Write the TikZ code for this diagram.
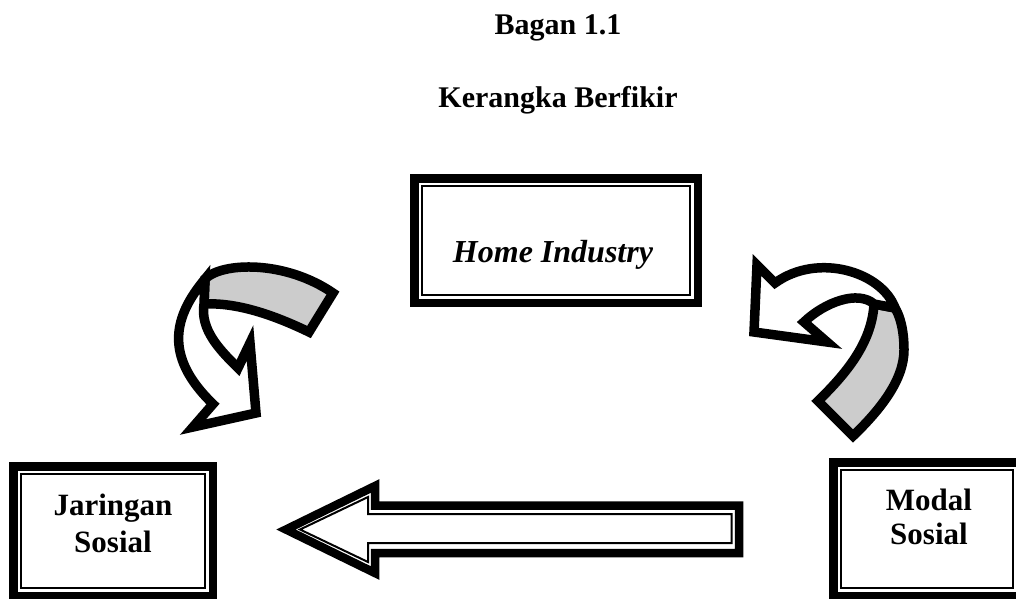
\documentclass[tikz,border=0pt]{standalone}
\usepackage{fontspec}
\setmainfont{Liberation Serif}
\definecolor{ribgray}{RGB}{204,204,204}
\begin{document}
\begin{tikzpicture}[x=1pt,y=-1pt,
  frame/.style={draw, line width=8.5pt, inner sep=0pt, outer sep=0pt},
  thinframe/.style={draw, line width=2pt},
  ribbon/.style={draw, line width=9.5pt, line join=miter, miter limit=10},
  titletext/.style={font=\fontsize{30}{36}\selectfont\bfseries, inner sep=0pt},
  boxtext/.style={font=\fontsize{31}{36}\selectfont\bfseries, inner sep=0pt}]
\useasboundingbox (0,0) rectangle (1016,598);
\clip (0,0) rectangle (1016,598);

% titles
\node[titletext, anchor=base] (t1) at (558,34) {Bagan 1.1};
\node[titletext, anchor=base] (t2) at (558,107) {Kerangka Berfikir};

% boxes
\node[frame, minimum width=283.5pt, minimum height=124.5pt] (home) at (556,240.5) {};
\draw[thinframe] ([shift={(8,8)}]home.north west) rectangle ([shift={(-8,-8)}]home.south east);
\node[boxtext, anchor=base, font=\fontsize{32}{36}\selectfont\bfseries\itshape] (homet) at (553,262) {Home Industry};

\node[frame, minimum width=199.5pt, minimum height=129.5pt] (jar) at (113,531) {};
\draw[thinframe] ([shift={(8,8)}]jar.north west) rectangle ([shift={(-8,-8)}]jar.south east);
\node[boxtext, anchor=base] (jar1) at (113,515) {Jaringan};
\node[boxtext, anchor=base] (jar2) at (113,552) {Sosial};

\node[frame, minimum width=187.5pt, minimum height=133.5pt] (mod) at (927,529) {};
\draw[thinframe] ([shift={(8,8)}]mod.north west) rectangle ([shift={(-8,-8)}]mod.south east);
\node[boxtext, anchor=base] (mod1) at (929,510) {Modal};
\node[boxtext, anchor=base] (mod2) at (929,544) {Sosial};

% horizontal block arrow (Modal Sosial -> Jaringan Sosial)
\draw[line width=8.5pt, line join=miter, miter limit=10]
  (286,529.5) -- (375,486) -- (375,505.5) -- (739,505.5) -- (739,553) -- (375,553) -- (375,573) -- cycle;
\draw[line width=2pt, line join=miter, miter limit=10]
  (300,529.5) -- (368,497) -- (368,514) -- (731.5,514) -- (731.5,543) -- (368,543) -- (368,562) -- cycle;

% left curved arrow
\draw[ribbon, fill=ribgray]
  (333,293) -- (309,332) .. controls (280,318) and (240,302) .. (204,304)
  -- (205,279) .. controls (222,262) and (285,260) .. (333,293) -- cycle;
\draw[ribbon, fill=white]
  (205,279) .. controls (175,315) and (162,355) .. (213,404)
  -- (193,427) -- (256,413) -- (250,343) -- (238,368)
  .. controls (220,350) and (200,330) .. (204,304) -- cycle;

% right curved arrow
\draw[ribbon, fill=ribgray]
  (818,401) -- (853,436) .. controls (880,410) and (904,380) .. (904,350)
  .. controls (904,330) and (900,316) .. (895,308)
  -- (874,304) .. controls (872,340) and (850,370) .. (818,401) -- cycle;
\draw[ribbon, fill=white]
  (757,265) -- (754,332) -- (827,342) -- (804,322)
  .. controls (825,302) and (858,290) .. (874,304)
  -- (895,308) .. controls (882,272) and (818,252) .. (775,283) -- cycle;
\end{tikzpicture}
\end{document}
